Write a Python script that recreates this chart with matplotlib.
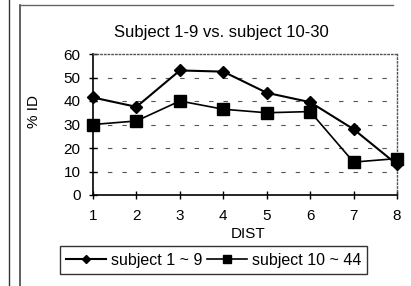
import matplotlib
matplotlib.use("Agg")
import matplotlib.pyplot as plt
from matplotlib.lines import Line2D

plt.rcParams["font.family"] = ["Liberation Sans", "DejaVu Sans"]

dist = [1, 2, 3, 4, 5, 6, 7, 8]
subj_1_9 = [41.5, 37.5, 53, 52.5, 43.5, 39.5, 28, 13]
subj_10_44 = [30, 31.5, 40, 36.5, 35, 35.5, 14, 15.5]
yticks = [0, 10, 20, 30, 40, 50, 60]

fig = plt.figure(figsize=(4.11, 2.86), dpi=100)
ax = fig.add_axes([93 / 411, 1 - 195 / 286, 304 / 411, 141 / 286])

# dashed horizontal grid
for y in yticks[1:-1]:
    ax.axhline(y, color="#555555", lw=0.8, ls=(0, (4, 9)), zorder=1)

ax.plot(dist, subj_1_9, color="black", lw=1.5, marker="D", ms=6,
        label="subject 1 ~ 9", zorder=3, clip_on=False)
ax.plot(dist, subj_10_44, color="black", lw=1.2, marker="s", ms=8,
        label="subject 10 ~ 44", zorder=3, clip_on=False)

ax.set_xlim(1, 8)
ax.set_ylim(0, 60)
ax.set_xticks(dist)
ax.set_yticks(yticks)
ax.tick_params(axis="both", direction="inout", length=6, width=1, labelsize=11)
ax.tick_params(axis="x", pad=7)
ax.tick_params(axis="y", pad=6)

ax.spines["left"].set_linewidth(1.2)
ax.spines["bottom"].set_linewidth(1.2)
for side in ["top", "right"]:
    ax.spines[side].set_linestyle(":")
    ax.spines[side].set_color("#555555")
    ax.spines[side].set_linewidth(1)

ax.set_xlabel("DIST", fontsize=11)
ax.xaxis.set_label_coords(0.51, -0.23)
ax.set_ylabel("% ID", fontsize=11)
ax.yaxis.set_label_coords(-0.17, 0.59)

fig.text(221 / 411, 1 - 32 / 286, "Subject 1-9 vs. subject 10-30",
         ha="center", va="center", fontsize=12)

leg = fig.legend(loc="center", bbox_to_anchor=(213.5 / 411, 1 - 260 / 286), ncol=2,
                 fontsize=11.5, frameon=True, fancybox=False, edgecolor="black",
                 handlelength=2.5, handletextpad=0.3, columnspacing=0.3,
                 borderpad=0.4, markerscale=0.75)
leg.get_frame().set_linewidth(1)

# page frame lines around the chart
fig.add_artist(Line2D([9 / 411, 9 / 411], [0, 1], color="#333333", lw=1))
fig.add_artist(Line2D([20 / 411, 20 / 411], [0, 1 - 5 / 286], color="#444444", lw=1.2))
fig.add_artist(Line2D([20 / 411, 393 / 411], [1 - 5 / 286, 1 - 5 / 286], color="#666666", lw=1))

fig.savefig("out.png", dpi=100)
